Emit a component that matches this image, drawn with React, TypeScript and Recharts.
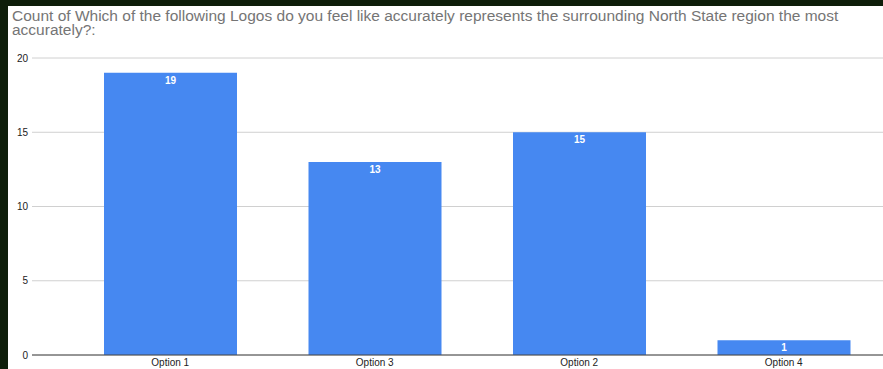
import React from 'react';
import { BarChart, Bar, XAxis, YAxis, CartesianGrid, LabelList } from 'recharts';

const categories = ['Option 1', 'Option 3', 'Option 2', 'Option 4'];
const counts = [19, 13, 15, 1];
const yTicks = [0, 5, 10, 15, 20];

const title =
  'Count of Which of the following Logos do you feel like accurately represents the surrounding North State region the most accurately?:';

const data = categories.map((name, i) => ({ name, count: counts[i] }));

export default function App() {
  return (
    <div
      style={{
        position: 'fixed',
        left: 0,
        top: 0,
        width: 883,
        height: 369,
        background: '#0e1e0a',
        overflow: 'hidden',
      }}
    >
      {/* white chart panel */}
      <div
        style={{
          position: 'absolute',
          left: 8,
          top: 6,
          width: 875,
          height: 363,
          background: '#ffffff',
          overflow: 'hidden',
          fontFamily: '"Liberation Sans", Arial, sans-serif',
        }}
      >
        <div
          style={{
            position: 'absolute',
            left: 4,
            top: 3,
            width: 840,
            fontSize: 15.5,
            lineHeight: '14px',
            color: '#757575',
          }}
        >
          {title}
        </div>
        <BarChart
          width={878}
          height={363}
          data={data}
          margin={{ top: 52, right: 0, bottom: 0, left: 0 }}
          style={{ position: 'absolute', left: 0, top: 0 }}
        >
          <CartesianGrid vertical={false} stroke="#d0d0d0" />
          <XAxis
            dataKey="name"
            height={14}
            tickLine={false}
            tickSize={0}
            tickMargin={4}
            padding={{ left: 36, right: 0 }}
            axisLine={{ stroke: '#444444' }}
            tick={{ fill: '#222222', fontSize: 10 }}
          />
          <YAxis
            width={24}
            domain={[0, 20]}
            ticks={yTicks}
            axisLine={false}
            tickLine={false}
            tickSize={0}
            tickMargin={4}
            tick={{ fill: '#222222', fontSize: 10 }}
          />
          <Bar dataKey="count" fill="#4688f1" barSize={133} isAnimationActive={false}>
            <LabelList dataKey="count" position="insideTop" offset={4} fill="#ffffff" fontSize={10} fontWeight="bold" />
          </Bar>
        </BarChart>
      </div>
    </div>
  );
}
